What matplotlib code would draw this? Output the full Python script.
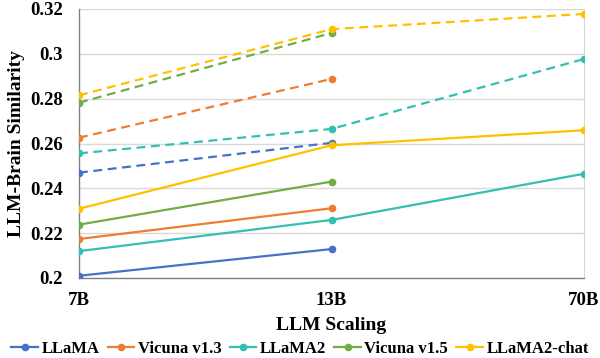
import matplotlib
matplotlib.use("Agg")
import matplotlib.pyplot as plt

categories = ["7B", "13B", "70B"]
series_names = ["LLaMA", "Vicuna v1.3", "LLaMA2", "Vicuna v1.5", "LLaMA2-chat"]
colors = ["#4472C4", "#ED7D31", "#33BFB2", "#70AD47", "#FFC000"]

# solid lines
solid_llama = [0.201, 0.2129]
solid_vicuna13 = [0.2174, 0.2311]
solid_llama2 = [0.212, 0.2259, 0.2465]
solid_vicuna15 = [0.2238, 0.2430]
solid_llama2chat = [0.2309, 0.2592, 0.2659]

# dashed lines
dash_llama = [0.2470, 0.2603]
dash_vicuna13 = [0.2626, 0.2888]
dash_llama2 = [0.2556, 0.2665, 0.2977]
dash_vicuna15 = [0.2782, 0.3093]
dash_llama2chat = [0.2815, 0.3110, 0.3178]

yticks = [0.2, 0.22, 0.24, 0.26, 0.28, 0.3, 0.32]
ytick_labels = ["0.2", "0.22", "0.24", "0.26", "0.28", "0.3", "0.32"]

solid = [solid_llama, solid_vicuna13, solid_llama2, solid_vicuna15, solid_llama2chat]
dashed = [dash_llama, dash_vicuna13, dash_llama2, dash_vicuna15, dash_llama2chat]

plt.rcParams['font.family'] = ['Liberation Serif', 'DejaVu Serif']
plt.rcParams['font.weight'] = 'bold'

fig = plt.figure(figsize=(6.0, 3.58), dpi=100)
ax = fig.add_axes([79/600, 1 - 278/358, (584-79)/600, (278-9)/358])

handles = []
for name, c, s, d in zip(series_names, colors, solid, dashed):
    xs = list(range(len(s)))
    h, = ax.plot(xs, s, color=c, lw=1.6, marker='o', ms=4.5, label=name, zorder=3)
    xd = list(range(len(d)))
    ax.plot(xd, d, color=c, lw=1.6, marker='o', ms=4.5, ls=(0, (4, 2.5)), zorder=3)
    handles.append(h)

ax.set_xlim(0, 2)
ax.set_ylim(0.2, 0.32)
ax.set_xticks(range(len(categories)))
ax.set_xticklabels(categories, fontsize=13.5, fontweight='bold')
ax.set_yticks(yticks)
ax.set_yticklabels(ytick_labels, fontsize=13.5, fontweight='bold')
ax.tick_params(length=0)
ax.tick_params(axis='y', pad=11.5)
ax.tick_params(axis='x', pad=10)
ax.grid(axis='y', color='#D9D9D9', lw=1)
ax.set_axisbelow(True)
for sp in ['left', 'bottom']:
    ax.spines[sp].set_color('#808080')
    ax.spines[sp].set_linewidth(1)
ax.spines['right'].set_color('#D9D9D9')
ax.spines['top'].set_visible(False)

ax.set_xlabel("LLM Scaling", fontsize=14, fontweight='bold', labelpad=6)
ax.set_ylabel("LLM-Brain Similarity", fontsize=14, fontweight='bold', labelpad=4)

fig.legend(handles=handles, loc='center', bbox_to_anchor=(0.5, 1 - 349/358), ncol=5,
           frameon=False, fontsize=12, handlelength=1.6, handletextpad=0.2,
           columnspacing=0.5, borderaxespad=0, borderpad=0)

fig.savefig("out.png", dpi=100)
